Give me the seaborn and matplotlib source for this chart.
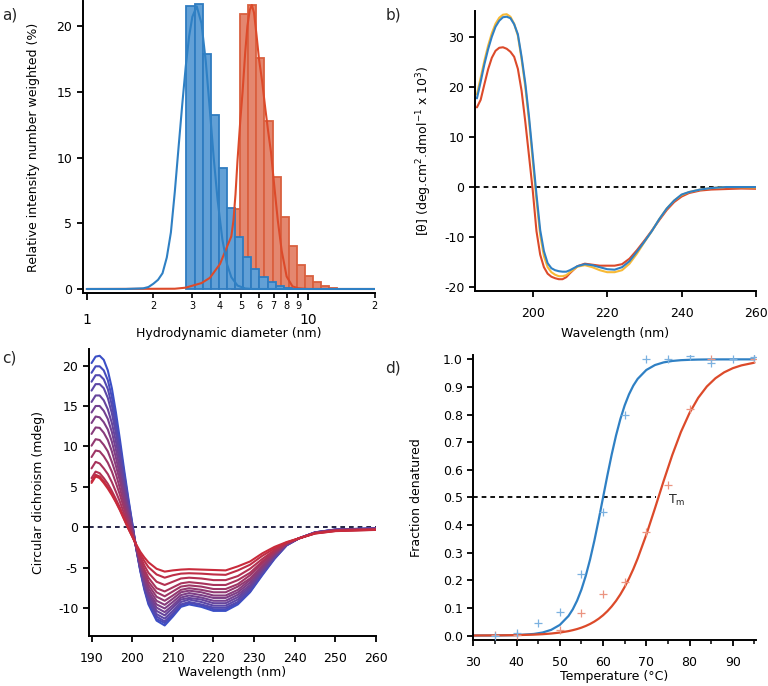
import matplotlib
matplotlib.use("Agg")
import numpy as np
import pandas as pd
import matplotlib.pyplot as plt
import matplotlib.ticker as mticker
import seaborn as sns

# ── Data ───────────────────────────────────────────────────────────────────────
# a) DLS size distribution (number weighted), bin edges in nm
dls_edges_blue = [2.82, 3.07, 3.34, 3.63, 3.95, 4.30, 4.68, 5.09, 5.54, 6.03, 6.56, 7.14, 7.77, 8.45]
dls_counts_blue = [21.5, 21.7, 17.85, 13.2, 9.2, 6.15, 3.95, 2.45, 1.5, 0.9, 0.5, 0.25, 0.1]
dls_edges_red = [4.55, 4.94, 5.37, 5.84, 6.35, 6.91, 7.52, 8.18, 8.90, 9.68, 10.5, 11.4, 12.4, 13.5]
dls_counts_red = [6.1, 20.9, 21.6, 17.6, 12.75, 8.55, 5.45, 3.25, 1.85, 1.0, 0.5, 0.2, 0.08]

fit_d_blue = [1.0, 1.5, 1.8, 1.9, 2.0, 2.1, 2.2, 2.3, 2.4, 2.5, 2.6, 2.7, 2.8, 2.9, 3.0, 3.14,
              3.3, 3.45, 3.6, 3.75, 3.9, 4.1, 4.3, 4.5, 4.8, 5.2, 5.6, 20.0]
fit_y_blue = [0.0, 0.0, 0.05, 0.15, 0.4, 0.7, 1.2, 2.4, 4.3, 7.4, 10.8, 14.0, 16.9, 19.2, 20.7, 21.5,
              20.2, 17.3, 13.6, 9.9, 6.8, 3.76, 1.9, 0.9, 0.26, 0.04, 0.0, 0.0]
fit_d_red = [1.0, 2.5, 2.8, 3.0, 3.3, 3.6, 4.0, 4.3, 4.5, 4.6, 4.7, 4.8, 4.95, 5.06, 5.2, 5.32, 5.45,
             5.57, 5.7, 5.85, 6.0, 6.2, 6.4, 6.6, 6.8, 7.0, 7.3, 7.6, 8.0, 8.5, 9.0, 10.0, 20.0]
fit_y_red = [0.0, 0.02, 0.1, 0.25, 0.45, 0.85, 1.9, 3.2, 4.0, 5.2, 7.2, 9.8, 13.0, 15.0, 18.0, 20.0, 21.2,
             21.6, 21.0, 19.3, 17.5, 15.8, 13.8, 12.0, 10.4, 8.2, 5.2, 2.9, 0.95, 0.2, 0.06, 0.0, 0.0]

# b) Mean residue ellipticity, three samples
mre_wl = [185, 186, 187, 188, 189, 190, 191, 192, 193, 194, 195, 196, 197, 198, 199, 200, 201, 202,
          203, 204, 205, 206, 207, 208, 209, 210, 212, 214, 216, 218, 220, 222, 224, 226, 228, 230,
          232, 234, 236, 238, 240, 242, 245, 248, 252, 256, 260]
mre_red = [15.9, 17.4, 20.5, 23.5, 25.8, 27.2, 27.8, 27.9, 27.6, 27.0, 26.0, 23.6, 19.2, 13.0, 6.2, -0.7,
           -8.8, -13.5, -16.0, -17.3, -17.9, -18.2, -18.4, -18.4, -18.0, -17.2, -15.8, -15.3, -15.5,
           -15.7, -15.7, -15.7, -15.4, -14.3, -12.6, -10.7, -8.7, -6.6, -4.6, -3.0, -1.9, -1.2, -0.7,
           -0.5, -0.4, -0.3, -0.35]
mre_yellow = [18.5, 21.8, 25.2, 28.2, 30.7, 32.6, 33.8, 34.4, 34.5, 34.0, 32.6, 30.2, 25.5, 20.0, 13.2,
              5.3, -2.6, -9.6, -13.8, -16.0, -17.0, -17.5, -17.8, -17.8, -17.6, -17.0, -15.9, -15.6,
              -16.0, -16.6, -17.0, -17.0, -16.6, -15.3, -13.3, -11.0, -8.8, -6.4, -4.3, -2.7, -1.6,
              -1.0, -0.5, -0.2, 0.0, -0.05, -0.1]
mre_blue = [17.7, 21.0, 24.5, 27.5, 30.0, 32.0, 33.2, 33.9, 34.0, 33.7, 32.5, 30.5, 26.0, 20.7, 14.0,
            6.3, -1.5, -8.6, -12.8, -15.2, -16.2, -16.6, -16.8, -16.9, -16.9, -16.6, -15.8, -15.4,
            -15.6, -16.0, -16.4, -16.5, -16.0, -14.8, -12.9, -10.9, -8.8, -6.4, -4.3, -2.7, -1.5,
            -1.0, -0.5, -0.2, 0.0, 0.0, 0.0]

# c) CD spectra during thermal ramp (first = native, last = denatured)
cd_wl = [190, 191, 192, 193, 194, 195, 196, 197, 198, 199, 200, 201, 202, 203, 204, 206, 208, 210,
         212, 214, 217, 220, 223, 226, 229, 232, 235, 238, 241, 245, 250, 260]
cd_spectra = [
    [20.3, 21.1, 21.2, 20.7, 19.4, 17.2, 14.2, 10.8, 7.2, 3.8, 0.6, -2.6, -5.4, -7.7, -9.5, -11.5, -12.1, -11.0,
     -9.8, -9.5, -9.8, -10.3, -10.3, -9.5, -8.0, -5.9, -3.9, -2.2, -1.35, -0.6, -0.25, -0.1],
    [19.1, 19.9, 19.9, 19.4, 18.2, 16.1, 13.3, 10.1, 6.7, 3.5, 0.5, -2.6, -5.3, -7.5, -9.3, -11.3, -11.8, -10.8,
     -9.6, -9.3, -9.6, -10.1, -10.1, -9.3, -7.9, -5.8, -3.8, -2.2, -1.35, -0.61, -0.26, -0.11],
    [18.0, 18.8, 18.8, 18.3, 17.1, 15.1, 12.4, 9.4, 6.2, 3.2, 0.3, -2.6, -5.2, -7.4, -9.1, -11.0, -11.6, -10.6,
     -9.5, -9.2, -9.5, -9.9, -9.9, -9.2, -7.7, -5.7, -3.8, -2.2, -1.35, -0.61, -0.27, -0.12],
    [16.9, 17.7, 17.7, 17.2, 16.0, 14.1, 11.6, 8.8, 5.8, 2.9, 0.2, -2.5, -5.1, -7.2, -8.8, -10.7, -11.25, -10.3,
     -9.2, -8.9, -9.2, -9.65, -9.65, -8.9, -7.5, -5.55, -3.7, -2.15, -1.35, -0.62, -0.28, -0.13],
    [15.5, 16.3, 16.3, 15.7, 14.6, 12.9, 10.6, 8.0, 5.2, 2.5, 0.05, -2.5, -4.95, -6.95, -8.5, -10.3, -10.85, -9.9,
     -8.9, -8.7, -8.9, -9.35, -9.35, -8.6, -7.3, -5.4, -3.6, -2.1, -1.35, -0.63, -0.29, -0.14],
    [14.2, 15.0, 15.0, 14.4, 13.4, 11.8, 9.6, 7.2, 4.6, 2.2, -0.1, -2.5, -4.8, -6.7, -8.2, -9.9, -10.45, -9.6,
     -8.65, -8.4, -8.65, -9.05, -9.05, -8.3, -7.1, -5.2, -3.5, -2.1, -1.35, -0.64, -0.3, -0.15],
    [12.9, 13.7, 13.6, 13.0, 12.1, 10.6, 8.6, 6.4, 4.1, 1.8, -0.3, -2.4, -4.6, -6.4, -7.9, -9.5, -10.0, -9.2,
     -8.35, -8.1, -8.35, -8.7, -8.7, -8.0, -6.8, -5.05, -3.4, -2.05, -1.35, -0.65, -0.31, -0.16],
    [11.55, 12.35, 12.3, 11.7, 10.8, 9.4, 7.6, 5.7, 3.5, 1.5, -0.4, -2.4, -4.5, -6.2, -7.5, -9.05, -9.55, -8.8,
     -8.0, -7.8, -8.0, -8.4, -8.4, -7.7, -6.5, -4.9, -3.3, -2.05, -1.35, -0.66, -0.33, -0.18],
    [10.1, 10.9, 10.8, 10.2, 9.4, 8.1, 6.6, 4.8, 2.9, 1.1, -0.6, -2.4, -4.3, -5.9, -7.1, -8.55, -9.05, -8.4,
     -7.7, -7.5, -7.7, -8.0, -8.0, -7.3, -6.3, -4.7, -3.2, -2.0, -1.35, -0.67, -0.34, -0.19],
    [8.7, 9.5, 9.4, 8.8, 8.0, 6.9, 5.5, 4.0, 2.35, 0.75, -0.7, -2.3, -4.1, -5.5, -6.7, -8.0, -8.5, -7.9,
     -7.3, -7.15, -7.3, -7.6, -7.6, -7.0, -5.9, -4.4, -3.1, -2.0, -1.35, -0.68, -0.36, -0.21],
    [7.3, 8.1, 7.9, 7.3, 6.6, 5.6, 4.4, 3.15, 1.75, 0.4, -0.9, -2.3, -3.9, -5.2, -6.2, -7.5, -7.9, -7.4,
     -6.9, -6.75, -6.9, -7.1, -7.1, -6.5, -5.6, -4.2, -2.95, -1.95, -1.35, -0.69, -0.38, -0.23],
    [6.1, 6.9, 6.7, 6.1, 5.4, 4.5, 3.5, 2.45, 1.25, 0.05, -1.0, -2.2, -3.6, -4.7, -5.6, -6.7, -7.1, -6.7,
     -6.3, -6.2, -6.3, -6.5, -6.5, -6.0, -5.1, -3.9, -2.8, -1.9, -1.35, -0.71, -0.4, -0.25],
    [5.7, 6.5, 6.3, 5.7, 5.0, 4.2, 3.2, 2.2, 1.1, -0.05, -1.1, -2.15, -3.3, -4.15, -4.9, -5.8, -6.2, -5.9,
     -5.7, -5.65, -5.7, -5.8, -5.85, -5.3, -4.6, -3.5, -2.6, -1.85, -1.35, -0.73, -0.43, -0.28],
    [5.5, 6.3, 6.1, 5.5, 4.8, 4.0, 3.1, 2.1, 1.0, -0.1, -1.1, -2.1, -3.0, -3.7, -4.3, -5.1, -5.45, -5.3,
     -5.2, -5.15, -5.2, -5.25, -5.3, -4.8, -4.2, -3.2, -2.4, -1.8, -1.35, -0.75, -0.45, -0.3],
]

# d) Thermal denaturation, fraction denatured
melt_temp = [35, 40, 45, 50, 55, 60, 65, 70, 75, 80, 85, 90, 95]
melt_blue = [0.0, 0.011, 0.045, 0.087, 0.223, 0.449, 0.799, 1.0, 1.0, 1.012, 0.985, 1.0, 1.007]
melt_red = [0.002, 0.003, None, 0.02, 0.08, 0.15, 0.193, 0.376, 0.545, 0.82, 1.003, None, 1.0]
fit_temp = [30, 35, 40, 44, 46, 48, 50, 52, 53, 54, 55, 56, 57, 58, 59, 60, 61, 62, 63, 64, 65, 66, 67,
            68, 70, 72, 74, 76, 78, 80, 82, 84, 86, 88, 90, 92, 95]
fit_blue = [0.0, 0.0003, 0.0016, 0.0058, 0.0109, 0.0206, 0.0385, 0.0707, 0.095, 0.1266, 0.1666, 0.2162,
            0.2757, 0.3443, 0.4202, 0.5, 0.5798, 0.6557, 0.7243, 0.7838, 0.8334, 0.8734, 0.905, 0.9293,
            0.9615, 0.9794, 0.989, 0.9942, 0.997, 0.9984, 0.9992, 0.9996, 0.9998, 0.9999, 0.9999, 1.0, 1.0]
fit_red = [0.0002, 0.0006, 0.0015, 0.0033, 0.0049, 0.0073, 0.0108, 0.016, 0.0195, 0.0236, 0.0286, 0.0347,
           0.042, 0.0507, 0.0611, 0.0735, 0.0882, 0.1055, 0.1256, 0.149, 0.176, 0.2066, 0.2408, 0.2789,
           0.365, 0.4606, 0.5592, 0.6533, 0.7369, 0.806, 0.8607, 0.9018, 0.9317, 0.953, 0.968, 0.9782, 0.988]
tm_line_temp = [30, 72.3]

# ── Style ──────────────────────────────────────────────────────────────────────
BLUE = "#2f80c4"
RED = "#dc4a2a"
YELLOW = "#f7b936"
BLUE_FACE = "#62a0d6"
BLUE_EDGE = "#2f7cc0"
RED_FACE = "#e4876f"
RED_EDGE = "#d9603f"
DASH = (0, (2.6, 2.2))

sns.set_theme(style="ticks")
plt.rcParams.update({
    "font.family": ["DejaVu Sans"],
    "font.size": 9,
    "axes.linewidth": 1.4,
    "axes.edgecolor": "black",
    "axes.labelsize": 9,
    "axes.labelcolor": "black",
    "xtick.labelsize": 9,
    "ytick.labelsize": 9,
    "xtick.color": "black",
    "ytick.color": "black",
    "xtick.major.size": 4.5,
    "ytick.major.size": 4.5,
    "xtick.major.width": 1.3,
    "ytick.major.width": 1.3,
    "xtick.minor.size": 2.8,
    "xtick.minor.width": 1.1,
    "xtick.direction": "out",
    "ytick.direction": "out",
    "xtick.major.pad": 4,
    "ytick.major.pad": 3,
    "axes.unicode_minus": False,
    "mathtext.default": "regular",
})


def style_axes(ax):
    sns.despine(ax=ax)
    ax.grid(False)


fig = plt.figure(figsize=(7.68, 6.86), dpi=100)
ax_a = fig.add_axes([0.1077, 0.5724, 0.3802, 0.4261])
ax_b = fig.add_axes([0.6181, 0.5762, 0.3663, 0.4082])
ax_c = fig.add_axes([0.1155, 0.0729, 0.3741, 0.4179])
ax_d = fig.add_axes([0.6163, 0.0671, 0.3677, 0.4155])

# ── a) DLS ─────────────────────────────────────────────────────────────────────
ax_a.set_xscale("log")
for edges, counts, face, edge in [(dls_edges_red, dls_counts_red, RED_FACE, RED_EDGE),
                                  (dls_edges_blue, dls_counts_blue, BLUE_FACE, BLUE_EDGE)]:
    e = np.asarray(edges)
    ax_a.bar(e[:-1], counts, width=np.diff(e), align="edge", color=face,
             edgecolor=edge, linewidth=1.3, zorder=2)
sns.lineplot(x=fit_d_red, y=fit_y_red, ax=ax_a, color=RED, lw=1.5, sort=False,
             estimator=None, zorder=3)
sns.lineplot(x=fit_d_blue, y=fit_y_blue, ax=ax_a, color=BLUE, lw=1.5, sort=False,
             estimator=None, zorder=3)
ax_a.set_xlim(0.959, 20)
ax_a.set_ylim(-0.33, 21.9)
ax_a.set_yticks([0, 5, 10, 15, 20])
ax_a.set_xticks([1, 10])
ax_a.set_xticklabels(["1", "10"], fontsize=10)
ax_a.set_xticks([2, 3, 4, 5, 6, 7, 8, 9, 20], minor=True)
ax_a.set_xticklabels(["2", "3", "4", "5", "6", "7", "8", "9", "2"], minor=True, fontsize=7)
ax_a.tick_params(axis="x", which="major", pad=9, length=5)
ax_a.tick_params(axis="x", which="minor", pad=2, length=3.5, width=1.2)
ax_a.set_xlabel("Hydrodynamic diameter (nm)", labelpad=0)
ax_a.set_ylabel("Relative intensity number weighted (%)", labelpad=12)
style_axes(ax_a)

# ── b) MRE spectra ─────────────────────────────────────────────────────────────
for series, color in [(mre_red, RED), (mre_yellow, YELLOW), (mre_blue, BLUE)]:
    sns.lineplot(x=mre_wl, y=series, ax=ax_b, color=color, lw=1.5, sort=False, estimator=None)
ax_b.axhline(0, color="black", lw=1.3, ls=DASH, zorder=0)
ax_b.set_xlim(184.4, 260)
ax_b.set_ylim(-20.7, 35.2)
ax_b.set_xticks([200, 220, 240, 260])
ax_b.set_yticks([-20, -10, 0, 10, 20, 30])
ax_b.tick_params(axis="x", pad=7)
ax_b.set_xlabel("Wavelength (nm)", labelpad=5)
ax_b.set_ylabel(r"[θ] (deg.cm$^{2}$.dmol$^{-1}$ x 10$^{3}$)", labelpad=7)
style_axes(ax_b)

# ── c) CD thermal ramp ─────────────────────────────────────────────────────────
cd_df = pd.DataFrame({
    "wavelength": np.tile(cd_wl, len(cd_spectra)),
    "cd": np.concatenate(cd_spectra),
    "scan": np.repeat(np.arange(len(cd_spectra)), len(cd_wl)),
})
ramp_palette = sns.blend_palette(["#3b4fc6", "#c92b3c"], len(cd_spectra))
ax_c.axhline(0, color="#141438", lw=1.3, ls=DASH, zorder=0)
sns.lineplot(data=cd_df, x="wavelength", y="cd", hue="scan", palette=ramp_palette,
             ax=ax_c, lw=1.5, sort=False, estimator=None, legend=False)
ax_c.set_xlim(189.3, 260)
ax_c.set_ylim(-13.4, 22)
ax_c.set_xticks(range(190, 261, 10))
ax_c.set_yticks([-10, -5, 0, 5, 10, 15, 20])
ax_c.tick_params(axis="x", pad=7)
ax_c.set_xlabel("Wavelength (nm)", labelpad=1)
ax_c.set_ylabel("Circular dichroism (mdeg)", labelpad=9)
style_axes(ax_c)

# ── d) Melting curves ──────────────────────────────────────────────────────────
ax_d.plot(tm_line_temp, [0.5, 0.5], color="black", lw=1.3, ls=DASH, zorder=1)
sns.lineplot(x=fit_temp, y=fit_blue, ax=ax_d, color=BLUE, lw=1.6, sort=False, estimator=None, zorder=2)
sns.lineplot(x=fit_temp, y=fit_red, ax=ax_d, color=RED, lw=1.6, sort=False, estimator=None, zorder=2)
melt_df = pd.DataFrame({"T": melt_temp, "blue": melt_blue, "red": melt_red})
sns.scatterplot(data=melt_df, x="T", y="red", ax=ax_d, marker="+", s=40,
                color="#eb9480", linewidth=0.9, zorder=3)
sns.scatterplot(data=melt_df, x="T", y="blue", ax=ax_d, marker="+", s=40,
                color="#7bb1e0", linewidth=0.9, zorder=3)
ax_d.text(75, 0.49, r"T$_{m}$", fontsize=9, va="center", ha="left")
ax_d.set_xlim(30, 95.3)
ax_d.set_ylim(-0.016, 1.016)
ax_d.set_xticks(range(30, 91, 10))
ax_d.set_xticks(range(35, 96, 10), minor=True)
ax_d.set_yticks(np.arange(0, 1.01, 0.1))
ax_d.yaxis.set_major_formatter(mticker.FormatStrFormatter("%.1f"))
ax_d.tick_params(axis="x", pad=7)
ax_d.set_xlabel("Temperature (°C)", labelpad=1)
ax_d.set_ylabel("Fraction denatured", labelpad=14)
style_axes(ax_d)

# panel letters
for x, y, letter in [(0.003, 0.978, "a)"), (0.502, 0.978, "b)"),
                     (0.003, 0.478, "c)"), (0.502, 0.464, "d)")]:
    fig.text(x, y, letter, fontsize=11, va="center", ha="left")

fig.savefig("out.png", dpi=100)
